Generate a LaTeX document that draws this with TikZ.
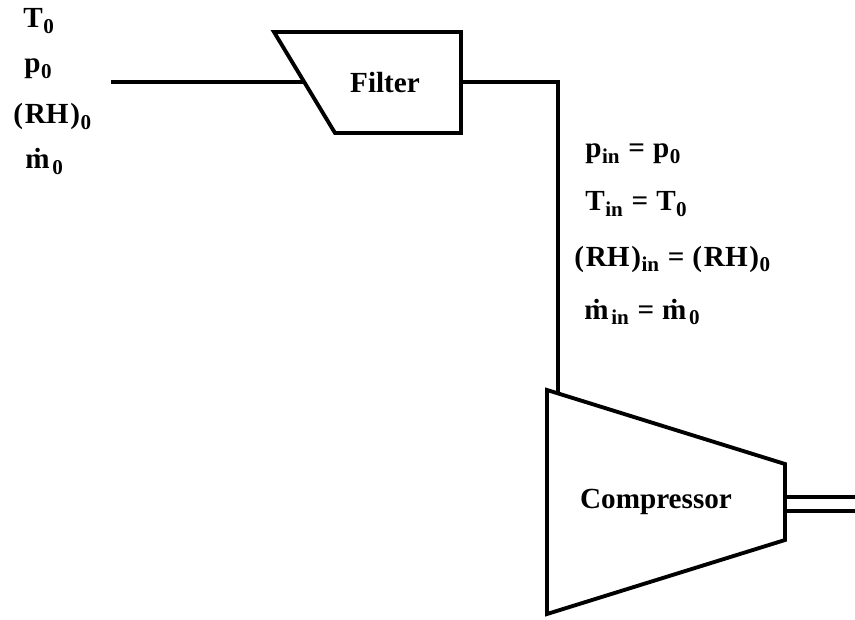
\documentclass[tikz,border=0pt]{standalone}
\usepackage{fontspec}
\setmainfont{Liberation Serif}
\newcommand{\mdot}{\.m\kern1.2pt}
\newcommand{\rh}{(\kern1pt RH\kern1pt)}
\newcommand{\low}[1]{\kern0.3pt\raisebox{-3.2pt}{\fontsize{12}{12}\selectfont #1}}
\newcommand{\eqsign}{\kern5pt=\kern4.5pt}
\tikzset{
  pipe/.style={line width=2.2pt, line join=miter},
  shaft/.style={line width=1.9pt},
  lab/.style={inner sep=0pt, font=\fontsize{16.6}{19}\selectfont\bfseries},
}
\begin{document}
\begin{tikzpicture}
\useasboundingbox (0,0) rectangle (17.1,12.38);

\draw [pipe] (5.48,11.74)--(9.22,11.74)--(9.22,9.72)--(6.70,9.72)--cycle; %filter
\draw [pipe] (10.94,4.58)--(15.70,3.10)--(15.70,1.58)--(10.94,0.10)--cycle; %compressor

\node [lab] (filter) at (7.70,10.72) {Filter};
\node [lab] (compressor) at (13.12,2.34) {Compressor};

\coordinate (inlet) at (2.22,10.74);
\coordinate (filterin) at (6.08,10.74);
\coordinate (filterout) at (9.22,10.74);
\coordinate (bend) at (11.16,10.74);
\coordinate (compin) at (11.16,4.51);
\draw [pipe] (inlet)--(filterin);
\draw [pipe] (filterout)--(bend)--(compin);

\coordinate (shafta) at (15.70,2.44);
\coordinate (shaftb) at (15.70,2.16);
\coordinate (enda) at (17.10,2.44);
\coordinate (endb) at (17.10,2.16);
\draw [shaft] (shafta)--(enda);
\draw [shaft] (shaftb)--(endb);

\node [lab, anchor=base west] (tzero) at (0.46,11.82) {T\low{0}};
\node [lab, anchor=base west] (pzero) at (0.48,10.92) {p\low{0}};
\node [lab, anchor=base west] (rhzero) at (0.26,9.90) {\rh\low{0}};
\node [lab, anchor=base west] (mzero) at (0.50,9.00) {\mdot\low{0}};

\node [lab, anchor=base west] (pin) at (11.70,9.22) {p\low{in}\eqsign p\low{0}};
\node [lab, anchor=base west] (tin) at (11.70,8.16) {T\low{in}\eqsign T\low{0}};
\node [lab, anchor=base west] (rhin) at (11.48,7.06) {\rh\low{in}\eqsign \rh\low{0}};
\node [lab, anchor=base west] (min) at (11.68,6.00) {\mdot\low{in}\eqsign \mdot\low{0}};

\end{tikzpicture}
\end{document}
